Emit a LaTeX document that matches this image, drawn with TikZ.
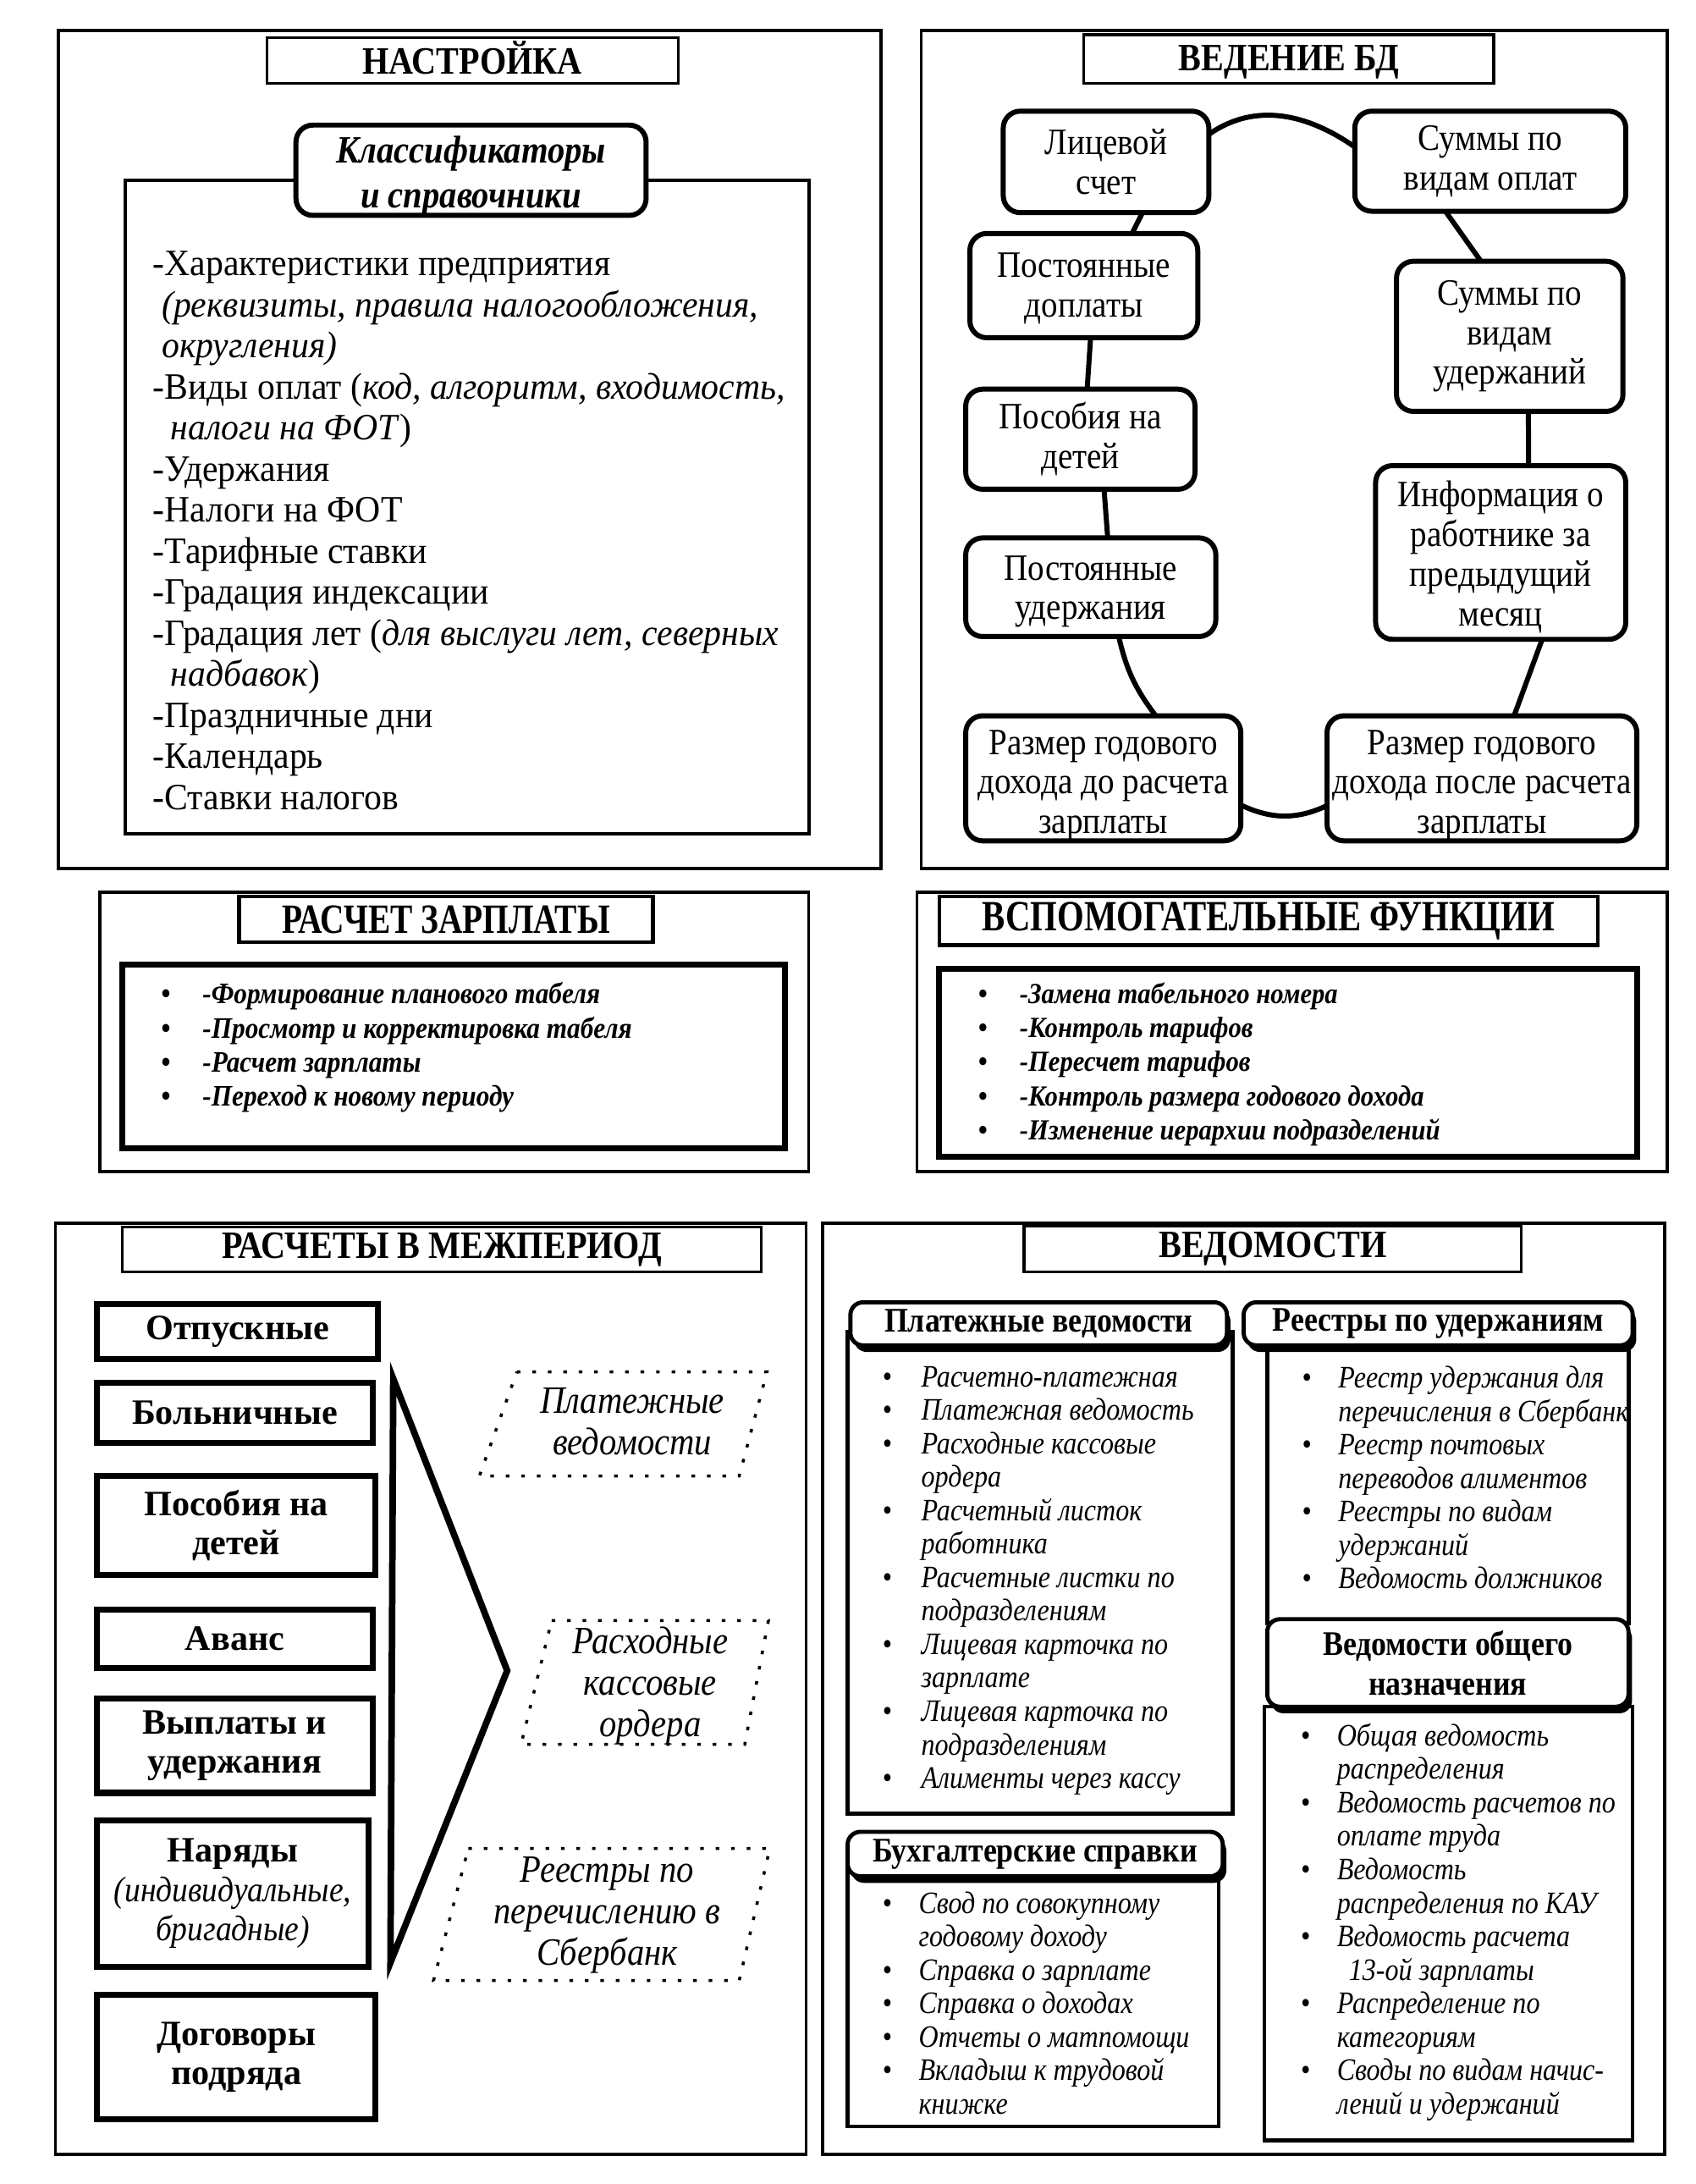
\documentclass[tikz,border=0pt]{standalone}
\usepackage{fontspec}
\setmainfont{Liberation Serif}
\newfontfamily\cond[FakeStretch=0.88]{Liberation Serif}
\newfontfamily\condx[FakeStretch=0.80]{Liberation Serif}
\newfontfamily\fa[FakeStretch=0.95]{Liberation Serif}
\newfontfamily\fb[FakeStretch=0.89]{Liberation Serif}
\newfontfamily\fc[FakeStretch=0.87]{Liberation Serif}
\usetikzlibrary{fit,calc,shadows}
\newcommand\bl{\makebox[0.46cm][l]{\textbullet}}
\newcommand\ind{\hspace*{0.46cm}}
\newcommand\blr{\makebox[0.43cm][l]{\textbullet}}
\newcommand\indr{\hspace*{0.43cm}}
\newcommand\blw{\makebox[0.49cm][l]{\textbullet}}
\begin{document}
\begin{tikzpicture}[x=0.016418cm, y=-0.016418cm, inner sep=0pt, outer sep=0pt]
\tikzset{
  panel/.style={draw, line width=1pt},
  inner/.style={draw, line width=1.1pt},
  innerthick/.style={draw, line width=2pt},
  tbox/.style={draw, line width=0.9pt, fill=white},
  ttl/.style={font=\fontsize{13}{14}\selectfont\cond\bfseries},
  ttlx/.style={font=\fontsize{14}{15}\selectfont\condx\bfseries},
  rbox/.style={draw, line width=1.7pt, rounded corners=0.2cm, fill=white},
  rtxt/.style={align=center, font=\fontsize{12.5}{13.3}\selectfont\fb},
  conn/.style={line width=1.7pt},
  sbox/.style={draw, line width=2pt, fill=white},
  stxt/.style={align=center, font=\fontsize{12}{13.2}\selectfont\bfseries},
  para/.style={line width=1pt, dash pattern=on 1.2pt off 4pt},
  ptxt/.style={align=center, font=\fontsize{13}{14}\selectfont\fb\itshape},
  hdr/.style={draw, line width=1.4pt, rounded corners=0.15cm, fill=white,
     drop shadow={opacity=1, shadow xshift=1.2pt, shadow yshift=-2.2pt, fill=black}},
  htxt/.style={align=center, font=\fontsize{11.6}{13.5}\selectfont\cond\bfseries},
  body/.style={draw, line width=1.3pt},
  ltxt/.style={anchor=north west, align=left, font=\fontsize{10.5}{11.25}\selectfont\fc\itshape},
  wtxt/.style={anchor=north west, align=left, font=\fontsize{10}{11.45}\selectfont\fb\bfseries\itshape},
}
\useasboundingbox (0,0) rectangle (1220,1571.4);

% ================= НАСТРОЙКА =================
\node[panel, fit={(42,22)(634,625)}] (nast) {};
\node[tbox, fit={(192,27)(488,60)}] (nastT) {};
\node[ttl] (nastTT) at ([yshift=1pt]nastT) {НАСТРОЙКА};
\node[inner, fit={(90,130)(582,600)}] (klsB) {};
\node[rbox, fit={(213,90)(465,155)}] (kls) {};
\node[align=center, font=\fontsize{13}{15}\selectfont\fb\bfseries\itshape] (klsT) at ([yshift=-2pt]kls) {Классификаторы\\и справочники};
\node[anchor=north west, align=left, font=\fontsize{12.5}{13.8}\selectfont\fa] (klsL) at (110,181) {%
-Характеристики предприятия\\
\hspace*{3pt}\textit{(реквизиты, правила налогообложения,}\\
\hspace*{3pt}\textit{округления)}\\
-Виды оплат (\textit{код, алгоритм, входимость,}\\
\hspace*{6pt}\textit{налоги на ФОТ})\\
-Удержания\\
-Налоги на ФОТ\\
-Тарифные ставки\\
-Градация индексации\\
-Градация лет (\textit{для выслуги лет, северных}\\
\hspace*{6pt}\textit{надбавок})\\
-Праздничные дни\\
-Календарь\\
-Ставки налогов};

% ================= ВЕДЕНИЕ БД =================
\node[panel, fit={(663,22)(1200,625)}] (bd) {};
\node[tbox, fit={(780,25)(1075,60)}] (bdT) {};
\node[ttl] (bdTT) at ([yshift=-1pt]bdT) {ВЕДЕНИЕ БД};

\node[rbox, fit={(722,80)(870,153)}] (lic) {};
\node[rtxt] (licT) at (lic) {Лицевой\\счет};
\node[rbox, fit={(975,80)(1170,152)}] (sop) {};
\node[rtxt] (sopT) at (sop) {Суммы по\\видам оплат};
\node[rbox, fit={(698,168)(862,243)}] (pd) {};
\node[rtxt] (pdT) at ([yshift=-1pt]pd) {Постоянные\\доплаты};
\node[rbox, fit={(1005,188)(1168,296)}] (su) {};
\node[rtxt] (suT) at (su) {Суммы по\\видам\\удержаний};
\node[rbox, fit={(695,280)(860,352)}] (pos) {};
\node[rtxt] (posT) at (pos) {Пособия на\\детей};
\node[rbox, fit={(990,335)(1170,460)}] (inf) {};
\node[rtxt] (infT) at ([yshift=-1.5pt]inf) {Информация о\\работнике за\\предыдущий\\месяц};
\node[rbox, fit={(695,387)(875,458)}] (pu) {};
\node[rtxt] (puT) at ([yshift=-1.5pt]pu) {Постоянные\\удержания};
\node[rbox, fit={(695,515)(893,605)}] (rd) {};
\node[rtxt] (rdT) at ([yshift=-2.5pt]rd) {Размер годового\\дохода до расчета\\зарплаты};
\node[rbox, fit={(955,515)(1178,605)}] (rp) {};
\node[rtxt] (rpT) at ([yshift=-2.5pt]rp) {Размер годового\\дохода после расчета\\зарплаты};

\draw[conn] (lic.15) to[out=35,in=145] (sop.174);
\draw[conn] ([xshift=0.43cm]lic.south) -- ([xshift=0.57cm]pd.north);
\draw[conn] ([xshift=0.08cm]pd.south) -- ([xshift=0.08cm]pos.north);
\draw[conn] ([xshift=0.28cm]pos.south) -- ([xshift=0.2cm]pu.north);
\draw[conn] ([xshift=0.33cm]pu.south) to[bend right=12] ([xshift=0.62cm]rd.north);
\draw[conn] (rd.-11) to[out=-25,in=-155] (rp.190);
\draw[conn] ([xshift=0.38cm]rp.north) -- ([xshift=0.49cm]inf.south);
\draw[conn] ([xshift=0.33cm]inf.north) -- ([xshift=0.22cm]su.south);
\draw[conn] ([xshift=-0.34cm]su.north) -- ([xshift=-0.53cm]sop.south);

% ================= РАСЧЕТ ЗАРПЛАТЫ =================
\node[panel, fit={(72,642)(582,843)}] (rz) {};
\node[tbox, line width=1.3pt, fit={(172,645)(470,678)}] (rzT) {};
\node[ttlx] (rzTT) at (rzT) {РАСЧЕТ ЗАРПЛАТЫ};
\node[innerthick, fit={(88,694)(565,826)}] (rzB) {};
\node[wtxt] (rzL) at (116,707) {%
\blw-Формирование планового табеля\\
\blw-Просмотр и корректировка табеля\\
\blw-Расчет зарплаты\\
\blw-Переход к новому периоду};

% ================= ВСПОМОГАТЕЛЬНЫЕ ФУНКЦИИ =================
\node[panel, fit={(660,642)(1200,843)}] (vf) {};
\node[tbox, line width=1.3pt, fit={(676,645)(1150,680)}] (vfT) {};
\node[ttlx, font=\fontsize{14.5}{15}\selectfont\condx\bfseries] (vfTT) at (vfT) {ВСПОМОГАТЕЛЬНЫЕ ФУНКЦИИ};
\node[innerthick, fit={(676,697)(1178,832)}] (vfB) {};
\node[wtxt, font=\fontsize{9.8}{11.45}\selectfont\fb\bfseries\itshape] (vfL) at (704,707) {%
\blw-Замена табельного номера\\
\blw-Контроль тарифов\\
\blw-Пересчет тарифов\\
\blw-Контроль размера годового дохода\\
\blw-Изменение иерархии подразделений};

% ================= РАСЧЕТЫ В МЕЖПЕРИОД =================
\node[panel, fit={(40,880)(580,1550)}] (mp) {};
\node[tbox, fit={(88,883)(548,915)}] (mpT) {};
\node[ttl] (mpTT) at (mpT) {РАСЧЕТЫ В МЕЖПЕРИОД};

\node[sbox, fit={(70,938)(272,978)}] (otp) {};
\node[stxt] (otpT) at (otp) {Отпускные};
\node[sbox, fit={(70,995)(268,1038)}] (bol) {};
\node[stxt] (bolT) at (bol) {Больничные};
\node[sbox, fit={(70,1062)(270,1133)}] (psd) {};
\node[stxt] (psdT) at (psd) {Пособия на\\детей};
\node[sbox, fit={(70,1158)(268,1200)}] (av) {};
\node[stxt] (avT) at (av) {Аванс};
\node[sbox, fit={(70,1222)(268,1290)}] (vy) {};
\node[stxt] (vyT) at (vy) {Выплаты и\\удержания};
\node[sbox, fit={(70,1310)(265,1415)}] (nar) {};
\node[stxt] (narT) at (nar) {Наряды\\\normalfont\fb\itshape(индивидуальные,\\\normalfont\fb\itshape бригадные)};
\node[sbox, fit={(70,1435)(270,1525)}] (dog) {};
\node[stxt] (dogT) at (dog) {Договоры\\подряда};

\coordinate (brA) at (283,992);
\coordinate (brB) at (365,1202);
\coordinate (brC) at (281,1412);
\draw[line width=2.2pt, line join=miter] (brA) -- (brB) -- (brC) -- cycle;

\coordinate (pa1) at (372,987); \coordinate (pa2) at (552,987);
\coordinate (pa3) at (532,1062); \coordinate (pa4) at (345,1062);
\draw[para] (pa1) -- (pa2) -- (pa3) -- (pa4) -- cycle;
\node[ptxt] (paT) at (455,1023) {Платежные\\ведомости};

\coordinate (pb1) at (397,1166); \coordinate (pb2) at (553,1166);
\coordinate (pb3) at (536,1255); \coordinate (pb4) at (375,1255);
\draw[para] (pb1) -- (pb2) -- (pb3) -- (pb4) -- cycle;
\node[ptxt] (pbT) at (468,1213) {Расходные\\кассовые\\ордера};

\coordinate (pc1) at (337,1330); \coordinate (pc2) at (554,1330);
\coordinate (pc3) at (532,1425); \coordinate (pc4) at (312,1425);
\draw[para] (pc1) -- (pc2) -- (pc3) -- (pc4) -- cycle;
\node[ptxt] (pcT) at (437,1378) {Реестры по\\перечислению в\\Сбербанк};

% ================= ВЕДОМОСТИ =================
\node[panel, fit={(592,880)(1198,1550)}] (ved) {};
\node[tbox, fit={(737,882)(1095,915)}] (vedT) {};
\node[ttl] (vedTT) at (vedT) {ВЕДОМОСТИ};

\node[body, fit={(610,958)(887,1305)}] (plB) {};
\node[body, fit={(912,962)(1172,1168)}] (reB) {};
\node[body, fit={(910,1228)(1175,1540)}] (obB) {};
\node[body, fit={(610,1343)(877,1530)}] (buB) {};

\node[hdr, fit={(612,937)(883,968)}] (pl) {};
\node[htxt] (plT) at (pl) {Платежные ведомости};
\node[hdr, fit={(895,937)(1175,968)}] (re) {};
\node[htxt] (reT) at (re) {Реестры по удержаниям};
\node[hdr, fit={(912,1165)(1172,1228)}] (ob) {};
\node[htxt] (obT) at (ob) {Ведомости общего\\назначения};
\node[hdr, fit={(610,1318)(880,1350)}] (bu) {};
\node[htxt] (buT) at (bu) {Бухгалтерские справки};

\node[ltxt] (plL) at (635,983) {%
\bl Расчетно-платежная\\
\bl Платежная ведомость\\
\bl Расходные кассовые\\
\ind ордера\\
\bl Расчетный листок\\
\ind работника\\
\bl Расчетные листки по\\
\ind подразделениям\\
\bl Лицевая карточка по\\
\ind зарплате\\
\bl Лицевая карточка по\\
\ind подразделениям\\
\bl Алименты через кассу};

\node[ltxt] (reL) at (937,983) {%
\blr Реестр удержания для\\
\indr перечисления в Сбербанк\\
\blr Реестр почтовых\\
\indr переводов алиментов\\
\blr Реестры по видам\\
\indr удержаний\\
\blr Ведомость должников};

\node[ltxt] (obL) at (936,1240) {%
\blr Общая ведомость\\
\indr распределения\\
\blr Ведомость расчетов по\\
\indr оплате труда\\
\blr Ведомость\\
\indr распределения по КАУ\\
\blr Ведомость расчета\\
\indr\hspace*{4pt}13-ой зарплаты\\
\blr Распределение по\\
\indr категориям\\
\blr Своды по видам начис-\\
\indr лений и удержаний};

\node[ltxt] (buL) at (635,1361) {%
\blr Свод по совокупному\\
\indr годовому доходу\\
\blr Справка о зарплате\\
\blr Справка о доходах\\
\blr Отчеты о матпомощи\\
\blr Вкладыш к трудовой\\
\indr книжке};

\end{tikzpicture}
\end{document}
